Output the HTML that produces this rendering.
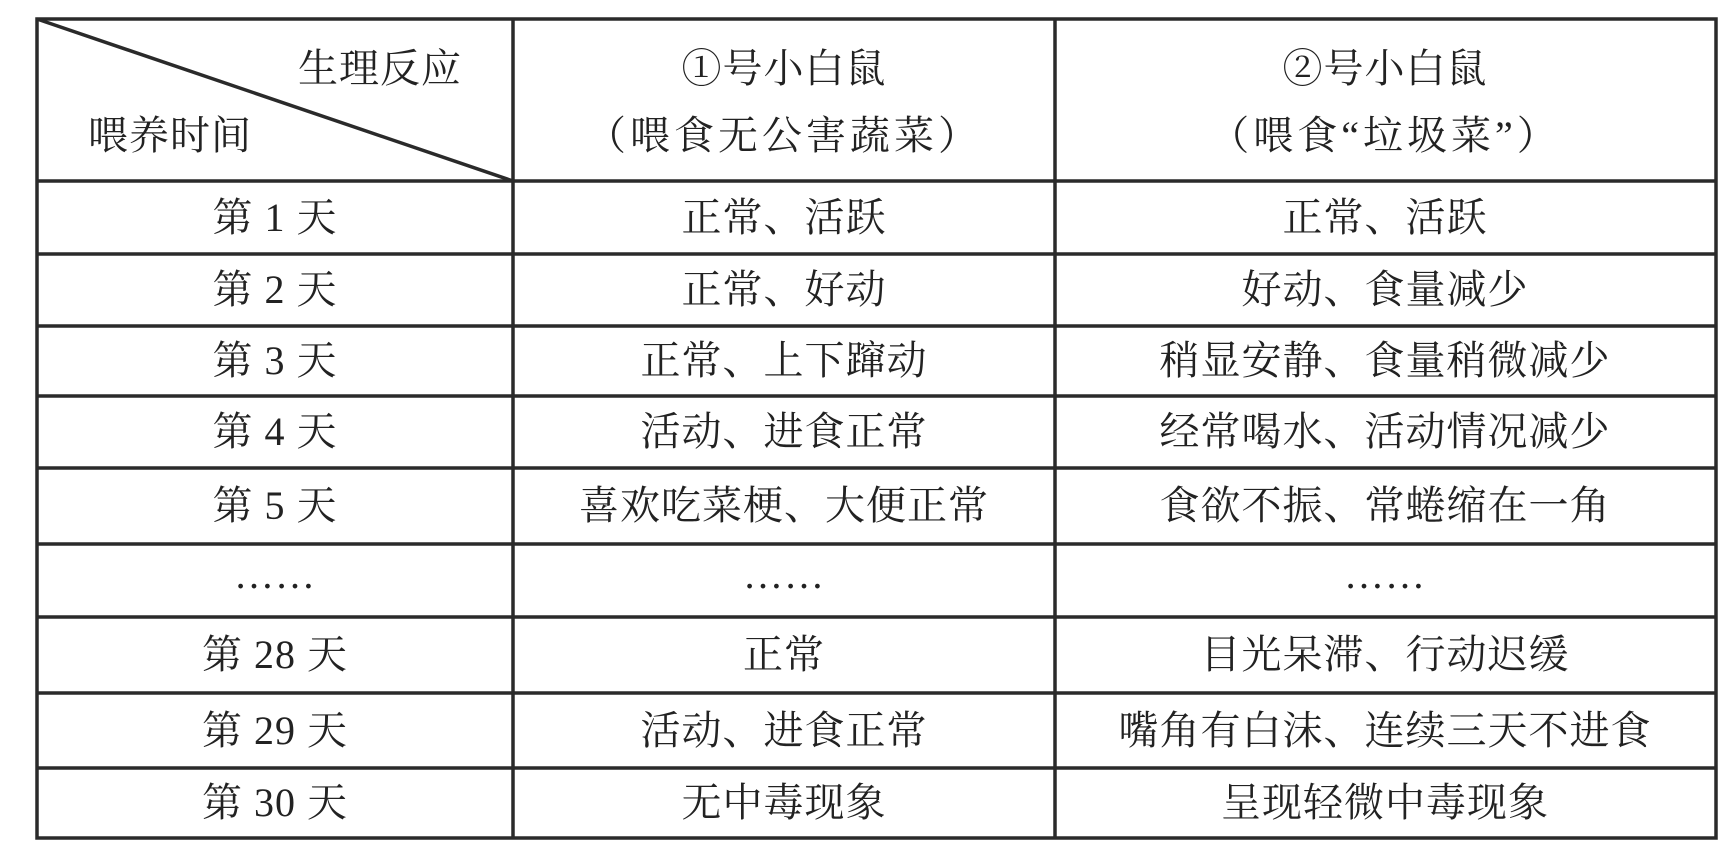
<!DOCTYPE html>
<html><head><meta charset="utf-8"><style>
html,body{margin:0;padding:0;background:#fff;}
body{width:1736px;height:866px;position:relative;overflow:hidden;font-family:"Liberation Serif","Noto Serif CJK SC",serif;color:#222;}
.t{position:absolute;font-size:40px;line-height:46px;letter-spacing:1px;white-space:nowrap;transform:translate(-50%,-50%);}
.w{letter-spacing:4px;}
</style></head><body>
<svg width="1736" height="866" style="position:absolute;left:0;top:0">
<g stroke="#2a2a2a" stroke-width="3.5" fill="none">
<rect x="37" y="19" width="1679" height="819"/>
<line x1="513" y1="19" x2="513" y2="838"/>
<line x1="1055" y1="19" x2="1055" y2="838"/>
<line x1="37" y1="181" x2="1716" y2="181"/>
<line x1="37" y1="254" x2="1716" y2="254"/>
<line x1="37" y1="326" x2="1716" y2="326"/>
<line x1="37" y1="396" x2="1716" y2="396"/>
<line x1="37" y1="468" x2="1716" y2="468"/>
<line x1="37" y1="544" x2="1716" y2="544"/>
<line x1="37" y1="617" x2="1716" y2="617"/>
<line x1="37" y1="693" x2="1716" y2="693"/>
<line x1="37" y1="768" x2="1716" y2="768"/>
<line x1="37" y1="19" x2="513" y2="181"/>
</g></svg>
<div class="t" style="left:380px;top:69px">生理反应</div>
<div class="t" style="left:170px;top:136px">喂养时间</div>
<div class="t" style="left:784px;top:69px">①号小白鼠</div>
<div class="t w" style="left:784px;top:136px">（喂食无公害蔬菜）</div>
<div class="t" style="left:1385px;top:69px">②号小白鼠</div>
<div class="t w" style="left:1385px;top:136px">（喂食“垃圾菜”）</div>

<div class="t" style="left:275px;top:218px">第 1 天</div>
<div class="t" style="left:784px;top:218px">正常、活跃</div>
<div class="t" style="left:1385px;top:218px">正常、活跃</div>

<div class="t" style="left:275px;top:290px">第 2 天</div>
<div class="t" style="left:784px;top:290px">正常、好动</div>
<div class="t" style="left:1385px;top:290px">好动、食量减少</div>

<div class="t" style="left:275px;top:361px">第 3 天</div>
<div class="t" style="left:784px;top:361px">正常、上下蹿动</div>
<div class="t" style="left:1385px;top:361px">稍显安静、食量稍微减少</div>

<div class="t" style="left:275px;top:432px">第 4 天</div>
<div class="t" style="left:784px;top:432px">活动、进食正常</div>
<div class="t" style="left:1385px;top:432px">经常喝水、活动情况减少</div>

<div class="t" style="left:275px;top:506px">第 5 天</div>
<div class="t" style="left:784px;top:506px">喜欢吃菜梗、大便正常</div>
<div class="t" style="left:1385px;top:506px">食欲不振、常蜷缩在一角</div>

<div class="t" style="left:275px;top:575px">……</div>
<div class="t" style="left:784px;top:575px">……</div>
<div class="t" style="left:1385px;top:575px">……</div>

<div class="t" style="left:275px;top:655px">第 28 天</div>
<div class="t" style="left:784px;top:655px">正常</div>
<div class="t" style="left:1385px;top:655px">目光呆滞、行动迟缓</div>

<div class="t" style="left:275px;top:731px">第 29 天</div>
<div class="t" style="left:784px;top:731px">活动、进食正常</div>
<div class="t" style="left:1385px;top:731px">嘴角有白沫、连续三天不进食</div>

<div class="t" style="left:275px;top:803px">第 30 天</div>
<div class="t" style="left:784px;top:803px">无中毒现象</div>
<div class="t" style="left:1385px;top:803px">呈现轻微中毒现象</div>
</body></html>
